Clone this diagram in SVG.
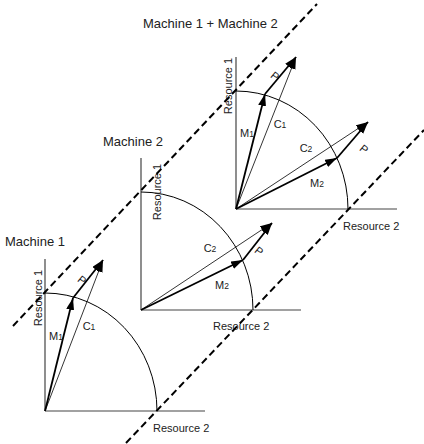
<svg xmlns="http://www.w3.org/2000/svg" width="424" height="444" viewBox="0 0 424 444">
<style>
.bg{fill:#fff}
.axis{stroke:#444;stroke-width:1.2;fill:none}
.arc{stroke:#000;stroke-width:1;fill:none}
.dash{stroke:#000;stroke-width:2;stroke-dasharray:7 4;fill:none}
.vm{stroke:#000;stroke-width:1.8;fill:none;marker-end:url(#ah)}
.vc{stroke:#000;stroke-width:0.8;fill:none;marker-end:url(#ah)}
.vp{stroke:#000;stroke-width:1.8;fill:none;marker-end:url(#ah)}
text{font-family:"Liberation Sans",Arial,sans-serif;fill:#222}
.title{font-size:13px}
.res{font-size:11px}
.lab{font-size:11px;text-anchor:middle}
.sub{font-size:8.5px}
</style>
<defs>
<marker id="ah" markerUnits="userSpaceOnUse" markerWidth="13" markerHeight="9" refX="12" refY="4" orient="auto">
<path d="M0,0 L12,4 L0,8 z" fill="#000"/>
</marker>
</defs>
<rect class="bg" x="0" y="0" width="424" height="444"/>

<g id="titles">
<text class="title" x="143" y="28">Machine 1 + Machine 2</text>
<text class="title" x="103" y="146">Machine 2</text>
<text class="title" x="5" y="246">Machine 1</text>
</g>

<g id="machine1">
<line class="axis" x1="45" y1="259" x2="45" y2="411"/>
<line class="axis" x1="45" y1="411" x2="205" y2="411"/>
<path class="arc" d="M45,293 A112,118 0 0 1 157,411"/>
<text class="res" text-anchor="middle" transform="translate(41.5,298) rotate(-90)">Resource 1</text>
<text class="res" x="153" y="432">Resource 2</text>
<line class="vm" x1="45" y1="411" x2="73" y2="298"/>
<line class="vc" x1="45" y1="411" x2="103" y2="260"/>
<line class="vp" x1="73" y1="298" x2="103" y2="260"/>
<text class="lab" x="56" y="340">M<tspan class="sub">1</tspan></text>
<text class="lab" x="89" y="330">C<tspan class="sub">1</tspan></text>
<text class="lab" transform="translate(82,280) rotate(39)" y="4">P</text>
</g>

<g id="machine2">
<line class="axis" x1="141" y1="158" x2="141" y2="310"/>
<line class="axis" x1="141" y1="310" x2="301" y2="310"/>
<path class="arc" d="M141,192 A112,118 0 0 1 253,310"/>
<text class="res" text-anchor="middle" transform="translate(161,192) rotate(-90)">Resource 1</text>
<text class="res" x="213" y="330">Resource 2</text>
<line class="vm" x1="141" y1="310" x2="243" y2="260"/>
<line class="vc" x1="141" y1="310" x2="272" y2="223"/>
<line class="vp" x1="243" y1="260" x2="272" y2="223"/>
<text class="lab" x="210" y="252">C<tspan class="sub">2</tspan></text>
<text class="lab" x="222" y="289">M<tspan class="sub">2</tspan></text>
<text class="lab" transform="translate(259,251) rotate(39)" y="4">P</text>
</g>

<g id="machine12">
<line class="axis" x1="236" y1="57" x2="236" y2="209"/>
<line class="axis" x1="236" y1="209" x2="397" y2="209"/>
<path class="arc" d="M236,91 A112,118 0 0 1 348,209"/>
<text class="res" text-anchor="middle" transform="translate(232,86) rotate(-90)">Resource 1</text>
<text class="res" x="343" y="230">Resource 2</text>
<line class="vm" x1="236" y1="209" x2="265" y2="94"/>
<line class="vc" x1="236" y1="209" x2="296" y2="57"/>
<line class="vp" x1="265" y1="94" x2="296" y2="57"/>
<line class="vm" x1="236" y1="209" x2="337" y2="158"/>
<line class="vc" x1="236" y1="209" x2="368" y2="122"/>
<line class="vp" x1="337" y1="158" x2="368" y2="122"/>
<text class="lab" x="247" y="137">M<tspan class="sub">1</tspan></text>
<text class="lab" x="280" y="128">C<tspan class="sub">1</tspan></text>
<text class="lab" x="306" y="152">C<tspan class="sub">2</tspan></text>
<text class="lab" x="317" y="187">M<tspan class="sub">2</tspan></text>
<text class="lab" transform="translate(275,76) rotate(39)" y="4">P</text>
<text class="lab" transform="translate(364,149) rotate(39)" y="4">P</text>
</g>

<g id="connectors">
<line class="dash" x1="13" y1="326" x2="317" y2="4"/>
<line class="dash" x1="126" y1="443" x2="424" y2="130"/>
</g>
</svg>
